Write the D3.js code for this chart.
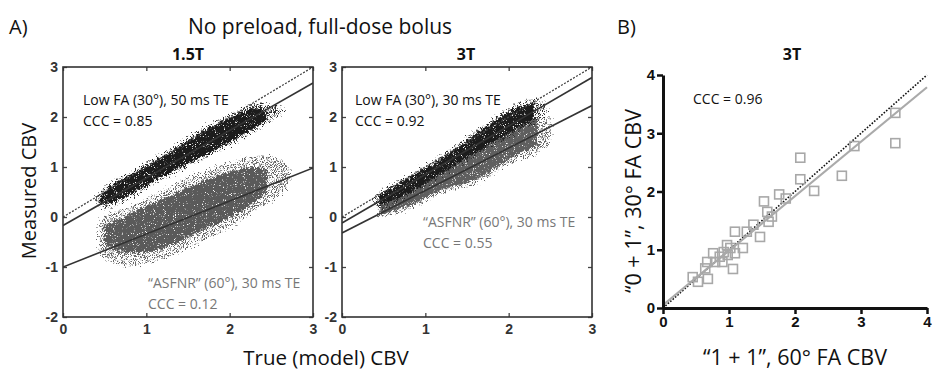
<!DOCTYPE html>
<html>
<head>
<meta charset="utf-8">
<script src="https://cdn.jsdelivr.net/npm/d3@7"></script>
<style>
  body { margin: 0; background: #fff; }
  svg { display: block; }
  .lbl { font-family: "Open Sans", sans-serif; fill: #111; }
  .tick text { font-family: "Liberation Sans", Arial, sans-serif; font-weight: bold; }
  .narrow .tick text { font-family: "Liberation Sans Narrow", "Liberation Sans", Arial, sans-serif; }
</style>
</head>
<body>
<svg id="chart" width="935" height="375"></svg>
<script>
// ---- data ----
// cloud envelopes: [true CBV, lower measured, upper measured]
const lowFA15Halo = [[0.40,0.27,0.43],[0.5,0.17,0.6],[0.8,0.38,0.9],[1.2,0.76,1.27],[1.6,1.09,1.7],[2.0,1.43,2.04],[2.3,1.71,2.26],[2.5,1.93,2.24],[2.64,2.06,2.16]];
const lowFA15Core = [[0.45,0.28,0.44],[0.6,0.31,0.64],[0.8,0.45,0.84],[1.2,0.82,1.2],[1.6,1.15,1.63],[2.0,1.5,1.98],[2.3,1.78,2.18],[2.45,1.95,2.12]];
const asfnr15Halo = [[0.42,-0.62,-0.08],[0.5,-0.8,0.02],[0.8,-0.97,0.2],[1.2,-0.82,0.52],[1.6,-0.54,0.86],[2.0,-0.2,1.07],[2.3,0.13,1.2],[2.6,0.43,1.17],[2.72,0.7,0.97]];
const asfnr15Core = [[0.5,-0.55,-0.18],[0.8,-0.72,0.06],[1.2,-0.62,0.36],[1.6,-0.32,0.66],[2.0,0.0,0.9],[2.3,0.3,1.0],[2.45,0.5,0.96]];
const asfnr3Halo  = [[0.42,-0.02,0.3],[0.8,0.16,0.63],[1.2,0.48,1.03],[1.6,0.66,1.43],[2.0,1.06,1.83],[2.4,1.36,2.06],[2.52,1.6,1.9]];
const asfnr3Core  = [[0.46,0.04,0.28],[0.8,0.22,0.6],[1.2,0.55,1.0],[1.6,0.75,1.4],[2.0,1.15,1.8],[2.35,1.45,2.0]];
const lowFA3Halo  = [[0.38,0.25,0.4],[0.45,0.17,0.5],[0.8,0.44,0.83],[1.2,0.84,1.23],[1.6,1.24,1.71],[2.0,1.61,2.16],[2.3,1.89,2.36],[2.46,2.0,2.26]];
const lowFA3Core  = [[0.45,0.22,0.45],[0.8,0.48,0.78],[1.2,0.88,1.18],[1.6,1.3,1.65],[2.0,1.68,2.1],[2.3,1.95,2.28]];
// regression lines: [intercept, slope]
const fits15 = [[-0.17,0.95],[-1.0,0.66]];
const fits3  = [[-0.12,0.97],[-0.32,0.85]];
const fitB   = [0.05,0.935];
// panel B points: ["1 + 1" 60° CBV, "0 + 1" 30° CBV]
const pointsB = [[3.52,3.35],[3.52,2.83],[2.9,2.78],[2.71,2.27],[2.08,2.58],[2.08,2.21],[2.29,2.01],[1.76,1.95],[1.86,1.88],
  [1.53,1.83],[1.58,1.65],[1.65,1.57],[1.6,1.48],[1.37,1.43],[1.27,1.31],[1.47,1.22],[1.09,1.31],[1.21,1.03],[0.97,1.08],
  [1.02,1.03],[1.09,0.94],[0.98,0.91],[0.86,0.88],[0.92,0.96],[0.76,0.94],[0.79,0.79],[0.9,0.79],[0.67,0.79],[0.64,0.68],
  [1.06,0.67],[0.68,0.5],[0.53,0.45],[0.45,0.53]];
const ticksA_x = [0,1,2,3];
const ticksA_y = [-2,-1,0,1,2,3];
const ticksB = [0,1,2,3,4];

const svg = d3.select("#chart");
const defs = svg.append("defs");

// speckle filter: turns a filled shape into a grainy scatter look
function speckle(id, freq, cut, disp) {
  const f = defs.append("filter").attr("id", id)
    .attr("x", "-5%").attr("y", "-5%").attr("width", "110%").attr("height", "110%");
  f.append("feTurbulence").attr("type", "fractalNoise").attr("baseFrequency", freq)
    .attr("numOctaves", 2).attr("seed", 7).attr("result", "noise");
  f.append("feDisplacementMap").attr("in", "SourceGraphic").attr("in2", "noise")
    .attr("scale", disp).attr("xChannelSelector", "R").attr("yChannelSelector", "G").attr("result", "moved");
  f.append("feTurbulence").attr("type", "fractalNoise").attr("baseFrequency", 1.1)
    .attr("numOctaves", 1).attr("seed", 3).attr("result", "grain");
  f.append("feColorMatrix").attr("in", "grain").attr("type", "matrix")
    .attr("values", "0 0 0 0 0  0 0 0 0 0  0 0 0 0 0  9 0 0 0 " + cut).attr("result", "mask");
  f.append("feComposite").attr("in", "moved").attr("in2", "mask").attr("operator", "in");
}
speckle("halo", 0.45, -4.4, 13);
speckle("core", 0.35, -2.4, 8);

const yA = d3.scaleLinear().domain([-2, 3]).range([317, 67]);
const xB = d3.scaleLinear().domain([0, 4]).range([663, 927]);
const yB = d3.scaleLinear().domain([0, 4]).range([308, 75]);

function cloud(g, x, data, color, filt) {
  const area = d3.area().x(d => x(d[0])).y0(d => yA(d[1])).y1(d => yA(d[2])).curve(d3.curveCatmullRom);
  g.append("path").datum(data).attr("d", area).attr("fill", color).attr("filter", "url(#" + filt + ")");
}

const fmt = d => String(d);  // plain hyphen minus like the original

function panelA(x, clouds, fits) {
  const g = svg.append("g");
  const clip = "clip" + Math.round(x(0));
  defs.append("clipPath").attr("id", clip).append("rect")
    .attr("x", x(0)).attr("y", yA(3)).attr("width", x(3) - x(0)).attr("height", yA(-2) - yA(3));
  const plot = g.append("g").attr("clip-path", "url(#" + clip + ")");
  clouds.forEach(c => cloud(plot, x, c[0], c[1], c[2]));

  plot.append("line").attr("x1", x(0)).attr("y1", yA(0)).attr("x2", x(3)).attr("y2", yA(3))
    .attr("stroke", "#444").attr("stroke-width", 1.3).attr("stroke-dasharray", "2,1.5");
  fits.forEach(f => {
    plot.append("line").attr("x1", x(0)).attr("y1", yA(f[0])).attr("x2", x(3)).attr("y2", yA(f[0] + 3 * f[1]))
      .attr("stroke", "#333").attr("stroke-width", 1.6);
  });

  const ax = [
    [d3.axisBottom(x).tickValues(ticksA_x).tickFormat(fmt), "translate(0," + yA(-2) + ")", 7],
    [d3.axisTop(x).tickValues(ticksA_x).tickFormat(""), "translate(0," + yA(3) + ")", 0],
    [d3.axisLeft(yA).tickValues(ticksA_y).tickFormat(fmt), "translate(" + x(0) + ",0)", 5],
    [d3.axisRight(yA).tickValues(ticksA_y).tickFormat(""), "translate(" + x(3) + ",0)", 0]
  ];
  ax.forEach(a => {
    const ag = g.append("g").attr("transform", a[1])
      .call(a[0].tickSizeInner(-4).tickSizeOuter(0).tickPadding(a[2]));
    ag.select(".domain").remove();
    ag.selectAll(".tick line").attr("stroke", "#444").attr("stroke-width", 1.3);
    ag.selectAll(".tick text").attr("fill", "#333").style("font-size", "14px");
  });
  g.append("rect").attr("x", x(0)).attr("y", yA(3)).attr("width", x(3) - x(0)).attr("height", yA(-2) - yA(3))
    .attr("fill", "none").attr("stroke", "#333").attr("stroke-width", 1.6);
  return g;
}

const xA1 = d3.scaleLinear().domain([0, 3]).range([63, 313]);
const xA2 = d3.scaleLinear().domain([0, 3]).range([342, 592]);

panelA(xA1, [[asfnr15Halo, "#666", "halo"], [asfnr15Core, "#5a5a5a", "core"],
             [lowFA15Halo, "#2a2a2a", "halo"], [lowFA15Core, "#1c1c1c", "core"]], fits15);
panelA(xA2, [[asfnr3Halo, "#666", "halo"], [asfnr3Core, "#5e5e5e", "core"],
             [lowFA3Halo, "#2a2a2a", "halo"], [lowFA3Core, "#1c1c1c", "core"]], fits3);

// texts
function txt(x, y, s, size, opts = {}) {
  const t = svg.append("text").attr("class", "lbl").attr("x", x).attr("y", y)
    .style("font-size", size + "px").text(s);
  if (opts.anchor) t.attr("text-anchor", opts.anchor);
  if (opts.bold) t.style("font-weight", "bold");
  if (opts.fill) t.style("fill", opts.fill);
  if (opts.rotate) t.attr("transform", "rotate(-90," + x + "," + y + ")");
  return t;
}
txt(9, 34, "A)", 20);
txt(320, 34, "No preload, full-dose bolus", 21, { anchor: "middle" });
txt(188, 60, "1.5T", 16, { anchor: "middle", bold: true });
txt(466, 60, "3T", 16, { anchor: "middle", bold: true });
txt(36, 191, "Measured CBV", 20, { anchor: "middle", rotate: true });
txt(326, 365, "True (model) CBV", 20.5, { anchor: "middle" });

txt(83, 105, "Low FA (30°), 50 ms TE", 14);
txt(83, 126, "CCC = 0.85", 14);
txt(148, 288, "“ASFNR” (60°), 30 ms TE", 14, { fill: "#777" });
txt(148, 309, "CCC = 0.12", 14, { fill: "#777" });
txt(355, 105, "Low FA (30°), 30 ms TE", 14);
txt(355, 126, "CCC = 0.92", 14);
txt(423, 227, "“ASFNR” (60°), 30 ms TE", 14, { fill: "#777" });
txt(423, 248, "CCC = 0.55", 14, { fill: "#777" });

txt(617, 34, "B)", 20);
txt(792, 60, "3T", 16, { anchor: "middle", bold: true });
txt(641, 201, "“0 + 1”, 30° FA CBV", 21.5, { anchor: "middle", rotate: true });
txt(795, 365, "“1 + 1”, 60° FA CBV", 21.5, { anchor: "middle" });
txt(693, 104, "CCC = 0.96", 14);

// panel B
const gB = svg.append("g").attr("class", "narrow");
gB.append("line").attr("x1", xB(0)).attr("y1", yB(0)).attr("x2", xB(4)).attr("y2", yB(4))
  .attr("stroke", "#111").attr("stroke-width", 1.6).attr("stroke-dasharray", "1.6,1.6");
gB.append("line").attr("x1", xB(0)).attr("y1", yB(fitB[0])).attr("x2", xB(4)).attr("y2", yB(fitB[0] + 4 * fitB[1]))
  .attr("stroke", "#aaa").attr("stroke-width", 2.2);
gB.selectAll("rect.pt").data(pointsB).enter().append("rect").attr("class", "pt")
  .attr("x", d => xB(d[0]) - 4.5).attr("y", d => yB(d[1]) - 4.5)
  .attr("width", 9).attr("height", 9)
  .attr("fill", "none").attr("stroke", "#a8a8a8").attr("stroke-width", 1.6);

const axB = [
  [d3.axisBottom(xB).tickValues(ticksB).tickFormat(fmt), "translate(0," + yB(0) + ")"],
  [d3.axisLeft(yB).tickValues(ticksB).tickFormat(fmt), "translate(" + xB(0) + ",0)"]
];
axB.forEach(a => {
  const ag = gB.append("g").attr("transform", a[1]).call(a[0].tickSizeInner(6).tickSizeOuter(0).tickPadding(2));
  ag.select(".domain").attr("stroke", "#111").attr("stroke-width", 3);
  ag.selectAll(".tick line").attr("stroke", "#111").attr("stroke-width", 2.5);
  ag.selectAll(".tick text").attr("fill", "#111").style("font-size", "15px");
});
</script>
</body>
</html>
